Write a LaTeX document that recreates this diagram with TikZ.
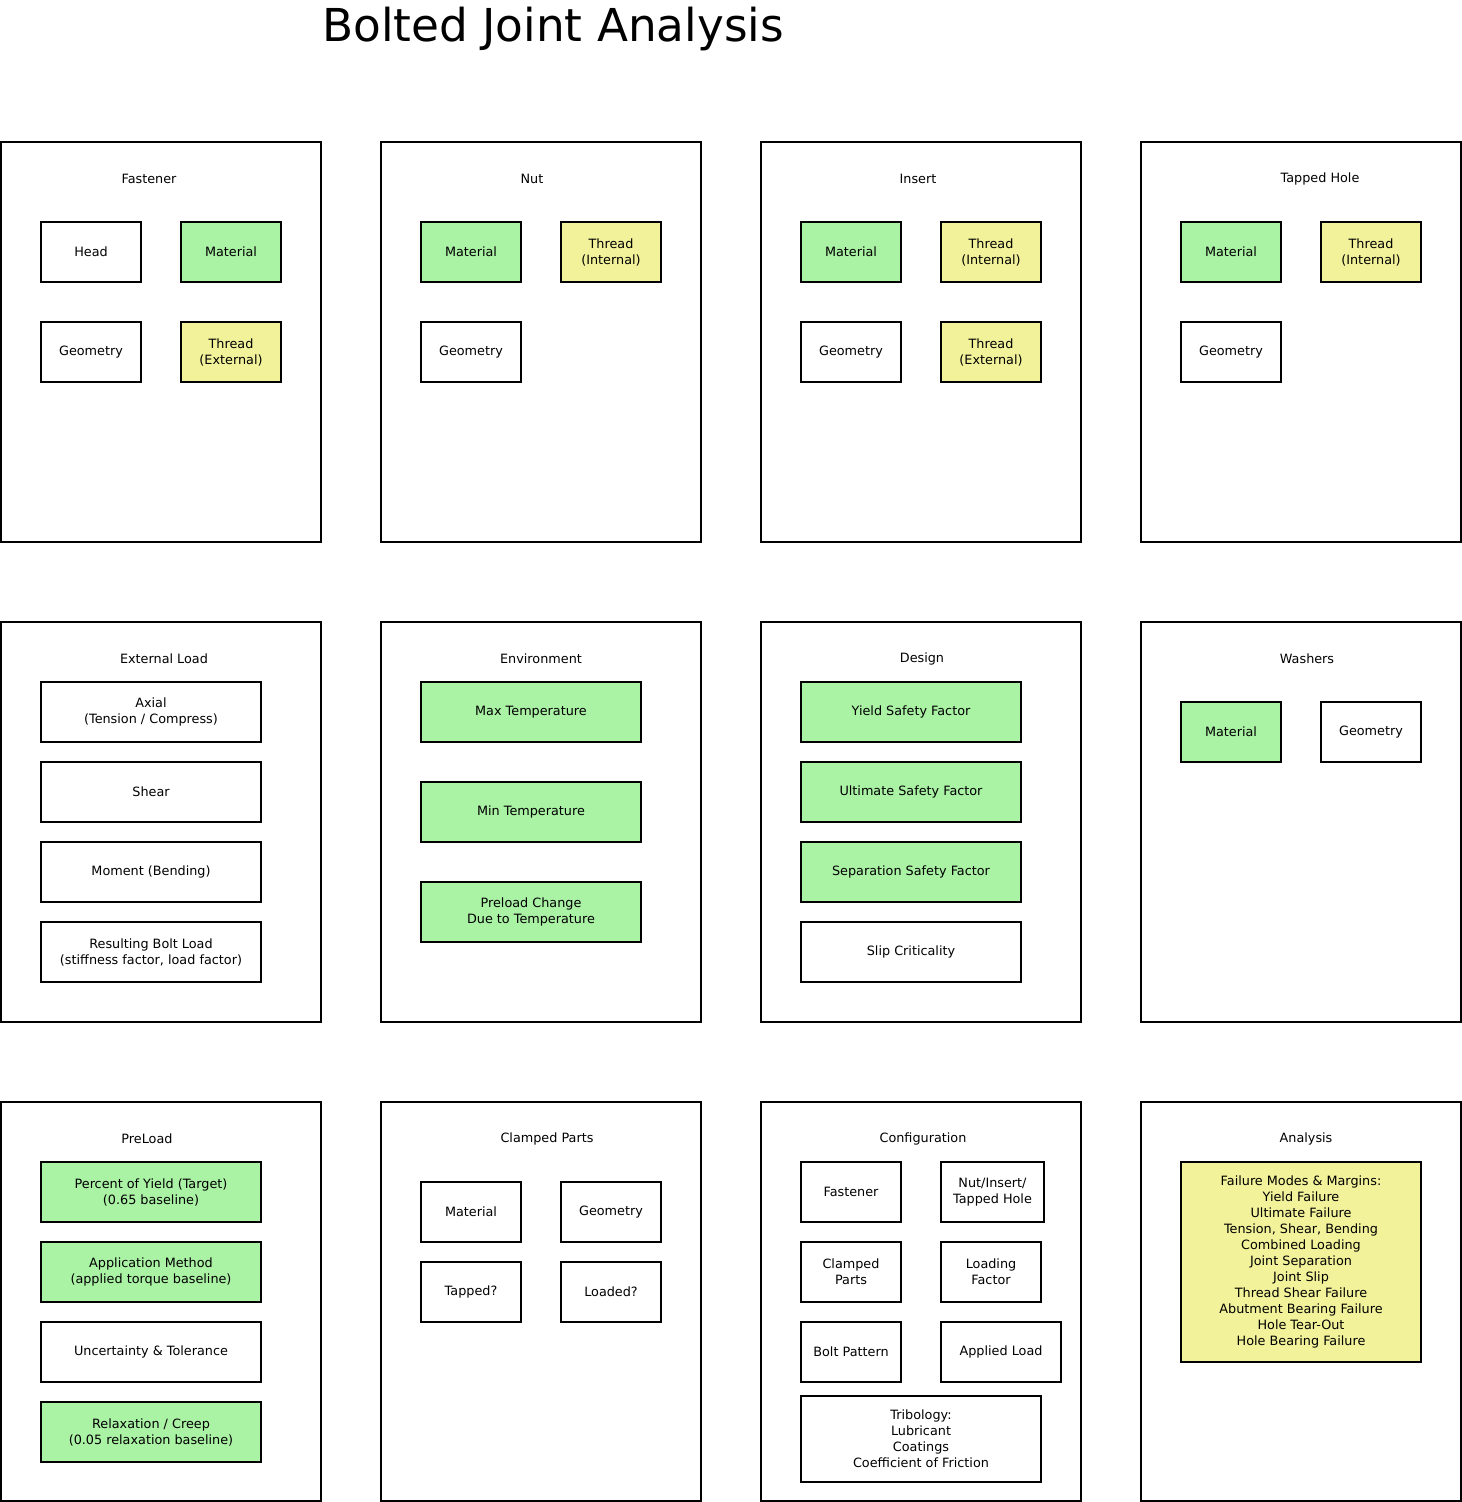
\documentclass[tikz,border=0pt]{standalone}
\usepackage{fontspec}
\setmainfont{DejaVu Sans}
\definecolor{gfill}{RGB}{170,242,164}
\definecolor{yfill}{RGB}{242,242,154}
\tikzset{
  sz/.style 2 args={minimum width=#1*0.75pt, minimum height=#2*0.75pt},
  panel/.style={draw=black, line width=1.5pt, fill=white, inner sep=0pt},
  box/.style={draw=black, line width=1.5pt, fill=white, inner sep=0pt, align=center, font=\fontsize{9.6}{12}\selectfont},
  gbox/.style={box, fill=gfill},
  ybox/.style={box, fill=yfill},
  ttl/.style={inner sep=0pt, font=\fontsize{9.6}{12}\selectfont},
  bigttl/.style={inner sep=0pt, font=\fontsize{34}{40}\selectfont}
}
\begin{document}
\begin{tikzpicture}[x=0.75pt,y=-0.75pt]
\useasboundingbox (0,0) rectangle (1462,1502);
\fill[white] (0,0) rectangle (1462,1502);
\node[bigttl] (title) at (553,29) {Bolted Joint Analysis};

% Row 1 panels
\node[panel, sz={320}{400}] (pfast) at (161,342) {};
\node[panel, sz={320}{400}] (pnut) at (541,342) {};
\node[panel, sz={320}{400}] (pins) at (921,342) {};
\node[panel, sz={320}{400}] (ptap) at (1301,342) {};
% Row 2 panels
\node[panel, sz={320}{400}] (pext) at (161,822) {};
\node[panel, sz={320}{400}] (penv) at (541,822) {};
\node[panel, sz={320}{400}] (pdes) at (921,822) {};
\node[panel, sz={320}{400}] (pwas) at (1301,822) {};
% Row 3 panels
\node[panel, sz={320}{399}] (ppre) at (161,1301.5) {};
\node[panel, sz={320}{399}] (pcla) at (541,1301.5) {};
\node[panel, sz={320}{399}] (pcon) at (921,1301.5) {};
\node[panel, sz={320}{399}] (pana) at (1301,1301.5) {};

% Titles
\node[ttl] (tfast) at (149,178.5) {Fastener};
\node[ttl] (tnut) at (532,178.5) {Nut};
\node[ttl] (tins) at (918,178.5) {Insert};
\node[ttl] (ttap) at (1320,178.5) {Tapped Hole};
\node[ttl] (text) at (164,658.5) {External Load};
\node[ttl] (tenv) at (541,658.5) {Environment};
\node[ttl] (tdes) at (922,658.5) {Design};
\node[ttl] (twas) at (1307,658.5) {Washers};
\node[ttl] (tpre) at (147,1138.5) {PreLoad};
\node[ttl] (tcla) at (547,1138.5) {Clamped Parts};
\node[ttl] (tcon) at (923,1138.5) {Configuration};
\node[ttl] (tana) at (1306,1138.5) {Analysis};

% Fastener
\node[box, sz={100}{60}] (fhead) at (91,252) {Head};
\node[gbox, sz={100}{60}] (fmat) at (231,252) {Material};
\node[box, sz={100}{60}] (fgeo) at (91,352) {Geometry};
\node[ybox, sz={100}{60}] (fthr) at (231,352) {Thread\\(External)};
% Nut
\node[gbox, sz={100}{60}] (nmat) at (471,252) {Material};
\node[ybox, sz={100}{60}] (nthr) at (611,252) {Thread\\(Internal)};
\node[box, sz={100}{60}] (ngeo) at (471,352) {Geometry};
% Insert
\node[gbox, sz={100}{60}] (imat) at (851,252) {Material};
\node[ybox, sz={100}{60}] (ithi) at (991,252) {Thread\\(Internal)};
\node[box, sz={100}{60}] (igeo) at (851,352) {Geometry};
\node[ybox, sz={100}{60}] (ithe) at (991,352) {Thread\\(External)};
% Tapped hole
\node[gbox, sz={100}{60}] (tmat) at (1231,252) {Material};
\node[ybox, sz={100}{60}] (tthr) at (1371,252) {Thread\\(Internal)};
\node[box, sz={100}{60}] (tgeo) at (1231,352) {Geometry};

% External load
\node[box, sz={220}{60}] (eax) at (151,712) {Axial\\(Tension / Compress)};
\node[box, sz={220}{60}] (esh) at (151,792) {Shear};
\node[box, sz={220}{60}] (emo) at (151,872) {Moment (Bending)};
\node[box, sz={220}{60}] (ere) at (151,952) {Resulting Bolt Load\\(stiffness factor, load factor)};
% Environment
\node[gbox, sz={220}{60}] (vmax) at (531,712) {Max Temperature};
\node[gbox, sz={220}{60}] (vmin) at (531,812) {Min Temperature};
\node[gbox, sz={220}{60}] (vpre) at (531,912) {Preload Change\\Due to Temperature};
% Design
\node[gbox, sz={220}{60}] (dys) at (911,712) {Yield Safety Factor};
\node[gbox, sz={220}{60}] (dus) at (911,792) {Ultimate Safety Factor};
\node[gbox, sz={220}{60}] (dss) at (911,872) {Separation Safety Factor};
\node[box, sz={220}{60}] (dsl) at (911,952) {Slip Criticality};
% Washers
\node[gbox, sz={100}{60}] (wmat) at (1231,732) {Material};
\node[box, sz={100}{60}] (wgeo) at (1371,732) {Geometry};

% PreLoad
\node[gbox, sz={220}{60}] (ppy) at (151,1192) {Percent of Yield (Target)\\(0.65 baseline)};
\node[gbox, sz={220}{60}] (pam) at (151,1272) {Application Method\\(applied torque baseline)};
\node[box, sz={220}{60}] (put) at (151,1352) {Uncertainty \& Tolerance};
\node[gbox, sz={220}{60}] (prc) at (151,1432) {Relaxation / Creep\\(0.05 relaxation baseline)};
% Clamped parts
\node[box, sz={100}{60}] (cmat) at (471,1212) {Material};
\node[box, sz={100}{60}] (cgeo) at (611,1212) {Geometry};
\node[box, sz={100}{60}] (ctap) at (471,1292) {Tapped?};
\node[box, sz={100}{60}] (cload) at (611,1292) {Loaded?};
% Configuration
\node[box, sz={100}{60}] (kfas) at (851,1192) {Fastener};
\node[box, sz={103}{60}] (knut) at (992.5,1192) {Nut/Insert/\\Tapped Hole};
\node[box, sz={100}{60}] (kcla) at (851,1272) {Clamped\\Parts};
\node[box, sz={100}{60}] (klf) at (991,1272) {Loading\\Factor};
\node[box, sz={100}{60}] (kbp) at (851,1352) {Bolt Pattern};
\node[box, sz={120}{60}] (kal) at (1001,1352) {Applied Load};
\node[box, sz={240}{86}] (ktri) at (921,1439) {Tribology:\\Lubricant\\Coatings\\Coefficient of Friction};
% Analysis
\node[ybox, sz={240}{200}] (afm) at (1301,1262) {Failure Modes \& Margins:\\Yield Failure\\Ultimate Failure\\Tension, Shear, Bending\\Combined Loading\\Joint Separation\\Joint Slip\\Thread Shear Failure\\Abutment Bearing Failure\\Hole Tear-Out\\Hole Bearing Failure};
\end{tikzpicture}
\end{document}
